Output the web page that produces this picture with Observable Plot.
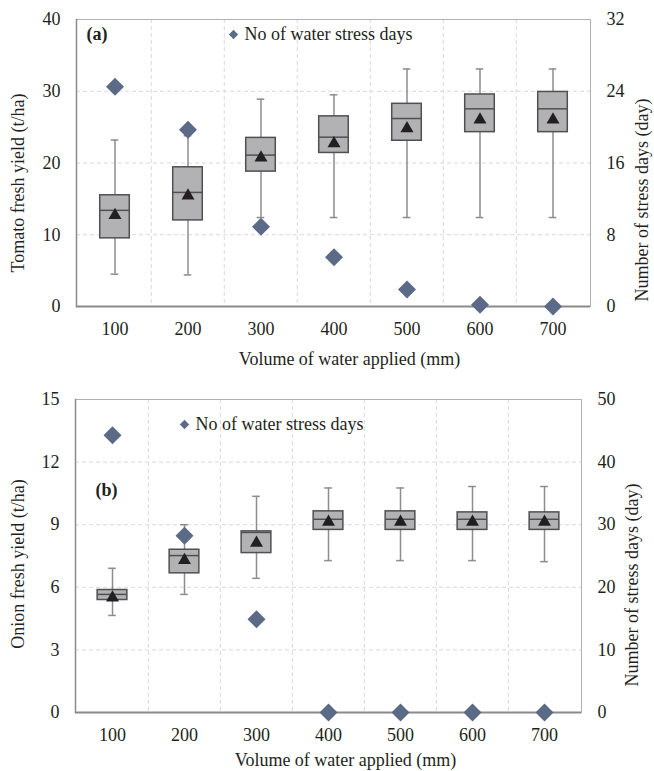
<!DOCTYPE html>
<html><head><meta charset="utf-8">
<script src="https://cdn.jsdelivr.net/npm/d3@7"></script>
<script src="https://cdn.jsdelivr.net/npm/@observablehq/plot@0.6"></script>
<style>
body{margin:0;background:#fff;}
#chart svg{display:block;}
#chart svg, #chart svg text{font-family:"Liberation Serif","Times New Roman",serif;}
</style></head><body><div id="chart"></div>
<script>
const volumes = ["100","200","300","400","500","600","700"];

// (a) Tomato
const tomatoLow    = [4.5, 4.4, 12.4, 12.4, 12.4, 12.4, 12.4];
const tomatoQ1     = [9.5, 12.0, 18.8, 21.4, 23.1, 24.3, 24.3];
const tomatoMedian = [13.4, 15.9, 21.1, 23.6, 26.2, 27.55, 27.55];
const tomatoQ3     = [15.5, 19.4, 23.5, 26.5, 28.25, 29.55, 29.9];
const tomatoHigh   = [23.2, 23.8, 28.9, 29.5, 33.1, 33.1, 33.1];
const tomatoMean   = [13.0, 15.7, 21.0, 23.0, 25.1, 26.3, 26.3];
const tomatoStress = [24.5, 19.7, 8.9, 5.5, 1.9, 0.2, 0];
const tomatoYTicks = [0, 10, 20, 30, 40];
const tomatoRTicks = [0, 8, 16, 24, 32];

// (b) Onion
const onionLow    = [4.65, 5.66, 6.43, 7.28, 7.28, 7.28, 7.23];
const onionQ1     = [5.39, 6.67, 7.64, 8.75, 8.75, 8.75, 8.75];
const onionMedian = [5.66, 7.52, 8.63, 9.26, 9.26, 9.26, 9.26];
const onionQ3     = [5.87, 7.80, 8.68, 9.64, 9.64, 9.59, 9.59];
const onionHigh   = [6.91, 9.0, 10.36, 10.76, 10.76, 10.83, 10.83];
const onionMean   = [5.6, 7.39, 8.22, 9.23, 9.23, 9.23, 9.23];
const onionStress = [44.3, 28.25, 14.9, 0, 0, 0, 0];
const onionYTicks = [0, 3, 6, 9, 12, 15];
const onionRTicks = [0, 10, 20, 30, 40, 50];

const xTitle = "Volume of water applied (mm)";
const rTitle = "Number of stress days (day)";
const legendText = "No of water stress days";

const INK = "#231f20";
const GRID = "#d9d9d9";
const BOXFILL = "#b2b2b5";
const BOXSTROKE = "#505050";
const WHISK = "#8c8c8c";
const DIAMOND = "#5b6b87";

function panel(o) {
  const W = 654;
  const k = o.yTicks[o.yTicks.length - 1] / o.rTicks[o.rTicks.length - 1];
  const yMax = o.yTicks[o.yTicks.length - 1];
  const rows = volumes.map((v, i) => ({
    v, low: o.low[i], q1: o.q1[i], med: o.med[i], q3: o.q3[i], high: o.high[i],
    mean: o.mean[i], stressY: o.stress[i] * k
  }));
  const bw = (W - o.mL - o.mR) / volumes.length;
  const boxInset = (bw - 30) / 2;
  const capInset = (bw - 8) / 2;
  return Plot.plot({
    width: W, height: o.height,
    marginLeft: o.mL, marginRight: o.mR, marginTop: o.mT, marginBottom: o.mB,
    style: {fontFamily: "'Liberation Serif', 'Times New Roman', serif", fontSize: "18px", color: INK, background: "#fff", overflow: "visible"},
    x: {type: "band", domain: volumes, padding: 0},
    y: {domain: [0, yMax]},
    marks: [
      Plot.ruleY(o.yTicks.filter(t => t > 0 && t < yMax), {stroke: GRID, strokeDasharray: "4,3"}),
      Plot.ruleX(volumes.slice(1), {dx: -bw / 2, stroke: GRID, strokeDasharray: "4,3"}),
      Plot.frame({stroke: "#b0b0b0"}),
      Plot.frame({anchor: "left", stroke: "#8a8a8a", strokeWidth: 1.5}),
      Plot.axisY(o.yTicks, {tickSize: 0, tickPadding: 16, label: null, fontSize: 18}),
      Plot.axisY(o.rTicks.map(t => t * k), {anchor: "right", tickSize: 0, tickPadding: 16, label: null, fontSize: 18, tickFormat: d => String(Math.round(d / k))}),
      Plot.axisX({tickSize: 0, tickPadding: 16, label: null, fontSize: 18}),
      Plot.ruleX(rows, {x: "v", y1: "low", y2: "high", stroke: WHISK, strokeWidth: 1.5}),
      Plot.tickY(rows, {x: "v", y: "low", insetLeft: capInset, insetRight: capInset, stroke: WHISK, strokeWidth: 1.5}),
      Plot.tickY(rows, {x: "v", y: "high", insetLeft: capInset, insetRight: capInset, stroke: WHISK, strokeWidth: 1.5}),
      Plot.barY(rows, {x: "v", y1: "q1", y2: "q3", insetLeft: boxInset, insetRight: boxInset, fill: BOXFILL, stroke: BOXSTROKE, strokeWidth: 1.5}),
      Plot.tickY(rows, {x: "v", y: "med", insetLeft: boxInset, insetRight: boxInset, stroke: BOXSTROKE, strokeWidth: 1.5}),
      Plot.dot(rows, {x: "v", y: "mean", symbol: "triangle2", r: 6.2, fill: INK, stroke: "none", dy: 2}),
      Plot.ruleY([0], {stroke: "#8a8a8a", strokeWidth: 2}),
      Plot.dot(rows, {x: "v", y: "stressY", symbol: "diamond2", r: 8.1, fill: DIAMOND, stroke: "none"}),
      // legend
      Plot.dot([0], {frameAnchor: "top-left", dx: o.legDx, dy: o.legDy, symbol: "diamond2", r: 4.2, fill: DIAMOND, stroke: "none"}),
      Plot.text([legendText], {frameAnchor: "top-left", dx: o.legDx + 11, dy: o.legDy, text: d => d, textAnchor: "start", lineAnchor: "middle", fontSize: 18, fill: INK}),
      // panel tag
      Plot.text([o.tag], {frameAnchor: "top-left", dx: o.tagDx, dy: o.tagDy, text: d => d, textAnchor: "start", lineAnchor: "middle", fontSize: 18, fontWeight: "bold", fill: INK}),
      // titles
      Plot.text([o.yTitle], {frameAnchor: "left", dx: o.yTitleDx, dy: o.yTitleDy, rotate: -90, text: d => d, textAnchor: "middle", lineAnchor: "middle", fontSize: 18, fill: INK}),
      Plot.text([rTitle], {frameAnchor: "right", dx: o.rTitleDx, dy: o.rTitleDy, rotate: -90, text: d => d, textAnchor: "middle", lineAnchor: "middle", fontSize: 18, fill: INK}),
      Plot.text([xTitle], {frameAnchor: "bottom", dx: o.xTitleDx, dy: o.xTitleDy, text: d => d, textAnchor: "middle", lineAnchor: "middle", fontSize: 18, fill: INK})
    ]
  });
}

const chart = document.getElementById("chart");
chart.append(panel({
  height: 380, mL: 76, mR: 64, mT: 19, mB: 74,
  yTicks: tomatoYTicks, rTicks: tomatoRTicks,
  low: tomatoLow, q1: tomatoQ1, med: tomatoMedian, q3: tomatoQ3, high: tomatoHigh, mean: tomatoMean, stress: tomatoStress,
  tag: "(a)", tagDx: 10, tagDy: 15,
  legDx: 157, legDy: 15,
  yTitle: "Tomato fresh yield (t/ha)", yTitleDx: -58, yTitleDy: 20,
  rTitleDx: 52, rTitleDy: 37, xTitleDx: 16, xTitleDy: 53
}));
chart.append(panel({
  height: 391, mL: 75, mR: 73, mT: 19, mB: 59,
  yTicks: onionYTicks, rTicks: onionRTicks,
  low: onionLow, q1: onionQ1, med: onionMedian, q3: onionQ3, high: onionHigh, mean: onionMean, stress: onionStress,
  tag: "(b)", tagDx: 20, tagDy: 91,
  legDx: 109, legDy: 25,
  yTitle: "Onion fresh yield (t/ha)", yTitleDx: -57, yTitleDy: 8,
  rTitleDx: 51, rTitleDy: 29, xTitleDx: 17, xTitleDy: 48
}));
</script>
</body></html>
